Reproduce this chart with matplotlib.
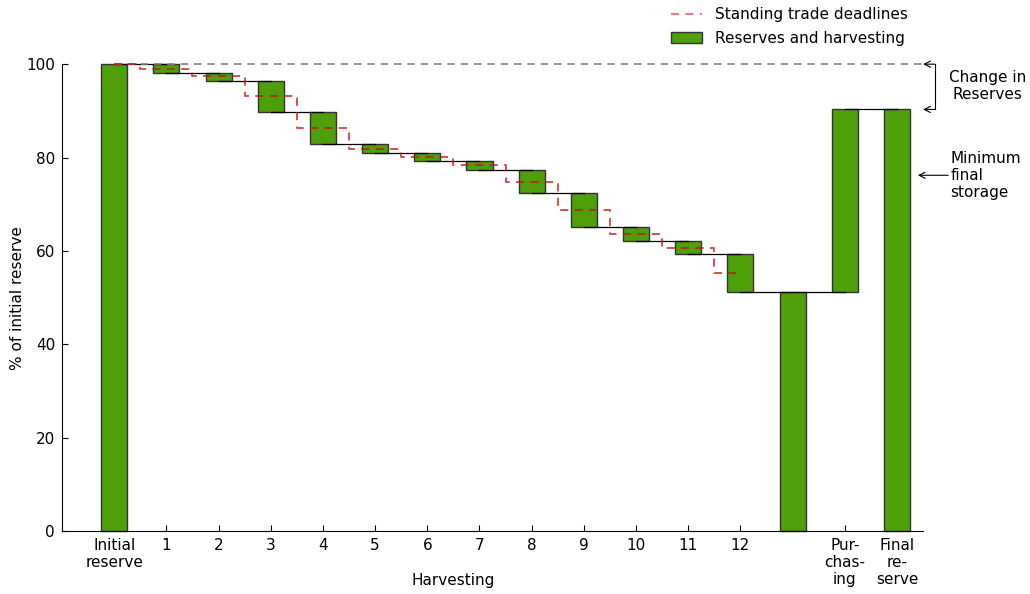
import matplotlib
matplotlib.use("Agg")
import matplotlib.pyplot as plt
from matplotlib.lines import Line2D
from matplotlib.patches import Patch
import numpy as np

plt.rcParams['font.family'] = ['DejaVu Sans']
plt.rcParams['font.size'] = 11

# Data
tick_labels = ['Initial\nreserve', '1', '2', '3', '4', '5', '6', '7', '8', '9', '10', '11', '12',
               '', 'Pur-\nchas-\ning', 'Final\nre-\nserve']
initial_reserve = 100.0
# reserve level after each harvesting period 1..12
levels = [98.2, 96.4, 89.8, 82.8, 81.0, 79.2, 77.4, 72.3, 65.1, 62.1, 59.4, 51.2]
final_reserve = 90.3
# standing trade deadlines (step values at 0, 0.5, 1.5, ..., 11.5)
deadline_x = [0, 0.5, 1.5, 2.5, 3.5, 4.5, 5.5, 6.5, 7.5, 8.5, 9.5, 10.5, 11.5, 12]
deadline_y = [100, 99.0, 97.4, 93.1, 86.4, 81.9, 80.2, 78.4, 74.8, 68.7, 63.6, 60.7, 55.3, 55.3]
min_final_storage = 76.2

green = '#4f9f0b'
edge = '#333333'
red = '#cc1010'

fig = plt.figure(figsize=(10.30, 5.94), dpi=100)
ax = fig.add_axes([0.0602, 0.106, 0.836, 0.786])

width = 0.5
# Bars
bar_kw = dict(width=width, color=green, edgecolor=edge, linewidth=1.0, zorder=2, clip_on=False)
ax.bar(0, initial_reserve, **bar_kw)
prev = initial_reserve
for i, lv in enumerate(levels, start=1):
    ax.bar(i, prev - lv, bottom=lv, **bar_kw)
    prev = lv
ax.bar(13, levels[-1], **bar_kw)
ax.bar(14, final_reserve - levels[-1], bottom=levels[-1], **bar_kw)
ax.bar(15, final_reserve, **bar_kw)

# Connector lines
all_levels = [initial_reserve] + levels
for i in range(len(all_levels) - 1):
    ax.plot([i, i + 1], [all_levels[i], all_levels[i]], color='k', lw=0.9, zorder=3, clip_on=False)
ax.plot([12, 13], [levels[-1], levels[-1]], color='k', lw=0.9, zorder=3, clip_on=False)
ax.plot([13, 14], [levels[-1], levels[-1]], color='k', lw=0.9, zorder=3, clip_on=False)
ax.plot([14, 15], [final_reserve, final_reserve], color='k', lw=0.9, zorder=3, clip_on=False)

# Grey dashed reference at initial reserve
ax.plot([0, 15.5], [initial_reserve, initial_reserve], color='#808080', lw=1.2,
        dashes=(4.5, 3.5), zorder=4, clip_on=False)

# Standing trade deadlines
ax.plot(deadline_x, deadline_y, drawstyle='steps-post', color=red, alpha=0.8,
        lw=1.3, dashes=(4.5, 3.5), zorder=5, clip_on=False)

# Annotations
ap = dict(arrowstyle='->', color='k', lw=0.8, shrinkA=0, shrinkB=0)
ax.annotate('', xy=(15.5, initial_reserve), xytext=(15.72, initial_reserve), arrowprops=ap,
            annotation_clip=False)
ax.annotate('', xy=(15.5, final_reserve), xytext=(15.72, final_reserve), arrowprops=ap,
            annotation_clip=False)
ax.plot([15.72, 15.72], [initial_reserve, final_reserve], color='k', lw=0.8, clip_on=False)
ax.text(16.73, 95.3, 'Change in\nReserves', ha='center', va='center', fontsize=11,
        linespacing=1.1, clip_on=False)
ax.annotate('', xy=(15.4, min_final_storage), xytext=(15.98, min_final_storage), arrowprops=ap,
            annotation_clip=False)
ax.text(16.02, min_final_storage, 'Minimum\nfinal\nstorage', ha='left', va='center',
        fontsize=11, linespacing=1.15, clip_on=False)

# Axes styling
ax.set_xlim(-1, 15.5)
ax.set_ylim(0, 100)
ax.spines['top'].set_visible(False)
ax.spines['right'].set_visible(False)
ax.set_xticks(range(len(tick_labels)))
ax.set_xticklabels(tick_labels, linespacing=1.15)
ax.set_yticks([0, 20, 40, 60, 80, 100])
ax.tick_params(direction='in', length=4, width=0.8, pad=5, labelsize=11)
ax.set_ylabel('% of initial reserve', fontsize=11)
ax.yaxis.set_label_coords(-0.043, 0.5)
ax.set_xlabel('Harvesting', fontsize=11)
ax.xaxis.set_label_coords(0.4545, -0.107)
ax.xaxis.label.set_va('center')

handles = [Line2D([0], [0], color=red, alpha=0.6, lw=1.3, dashes=(4.5, 3.5)),
           Patch(facecolor=green, edgecolor=edge, linewidth=1.0)]
fig.legend(handles, ['Standing trade deadlines', 'Reserves and harvesting'],
           loc='upper right', bbox_to_anchor=(0.887, 0.998), borderaxespad=0,
           frameon=False, fontsize=11, handlelength=2.0, handletextpad=0.85,
           handleheight=0.75, labelspacing=0.55)

fig.savefig('out.png', dpi=100)
